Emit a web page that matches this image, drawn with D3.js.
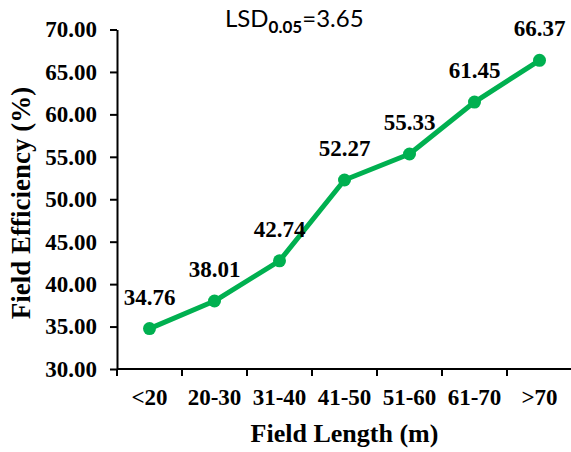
<!DOCTYPE html>
<html>
<head>
<meta charset="utf-8">
<script src="https://cdn.jsdelivr.net/npm/d3@7"></script>
<style>
  body { margin: 0; background: #fff; }
  svg { display: block; }
</style>
</head>
<body>
<div id="chart"></div>
<script>
// Data
const categories = ["<20", "20-30", "31-40", "41-50", "51-60", "61-70", ">70"];
const efficiency = [34.76, 38.01, 42.74, 52.27, 55.33, 61.45, 66.37];
const yTicks = [30, 35, 40, 45, 50, 55, 60, 65, 70];
const lsdValue = "3.65";

const W = 571, H = 452;
const margin = {top: 29.5, right: -1, bottom: 83, left: 117};
const green = "#00b050";
const serif = "'Liberation Serif', 'Times New Roman', serif";

const svg = d3.select("#chart")
    .append("svg")
    .attr("width", W)
    .attr("height", H);

// Scales
const x = d3.scaleBand()
    .domain(categories)
    .range([margin.left, W - margin.right]);

const y = d3.scaleLinear()
    .domain([30, 70])
    .range([H - margin.bottom, margin.top]);

// Y axis
const yAxis = svg.append("g")
    .attr("transform", "translate(" + margin.left + ",0)")
    .call(d3.axisLeft(y)
        .tickValues(yTicks)
        .tickFormat(d3.format(".2f"))
        .tickSize(7)
        .tickSizeOuter(0)
        .tickPadding(13));
yAxis.selectAll("text")
    .style("font-family", serif)
    .style("font-weight", "bold")
    .style("font-size", "23px")
    .attr("fill", "#000");
yAxis.selectAll("line, path").attr("stroke", "#000").attr("stroke-width", 2);

// X axis: line plus ticks at band edges, labels at band centres
const xAxis = svg.append("g");
const y0 = y(30);
xAxis.append("line")
    .attr("x1", margin.left)
    .attr("x2", W)
    .attr("y1", y0)
    .attr("y2", y0)
    .attr("stroke", "#000")
    .attr("stroke-width", 2);

xAxis.selectAll(".xtick")
    .data(categories)
    .enter()
    .append("line")
    .attr("class", "xtick")
    .attr("x1", d => x(d))
    .attr("x2", d => x(d))
    .attr("y1", y0)
    .attr("y2", y0 + 7)
    .attr("stroke", "#000")
    .attr("stroke-width", 2);

xAxis.selectAll(".xlabel")
    .data(categories)
    .enter()
    .append("text")
    .attr("class", "xlabel")
    .attr("x", d => x(d) + x.bandwidth() / 2)
    .attr("y", 405)
    .attr("text-anchor", "middle")
    .style("font-family", serif)
    .style("font-weight", "bold")
    .style("font-size", "23px")
    .text(d => d);

// Axis titles
svg.append("text")
    .attr("x", (margin.left + W - margin.right) / 2)
    .attr("y", 442)
    .attr("text-anchor", "middle")
    .style("font-family", serif)
    .style("font-weight", "bold")
    .style("font-size", "26px")
    .text("Field Length (m)");

svg.append("text")
    .attr("transform", "translate(30," + 203 + ") rotate(-90)")
    .attr("text-anchor", "middle")
    .style("font-family", serif)
    .style("font-weight", "bold")
    .style("font-size", "27px")
    .text("Field Efficiency (%)");

// Line and markers
const pts = categories.map((c, i) => ({cat: c, val: efficiency[i]}));
const line = d3.line()
    .x(d => x(d.cat) + x.bandwidth() / 2)
    .y(d => y(d.val));

svg.append("path")
    .datum(pts)
    .attr("d", line)
    .attr("fill", "none")
    .attr("stroke", green)
    .attr("stroke-width", 5)
    .attr("stroke-linejoin", "round");

svg.selectAll(".dot")
    .data(pts)
    .enter()
    .append("circle")
    .attr("class", "dot")
    .attr("cx", d => x(d.cat) + x.bandwidth() / 2)
    .attr("cy", d => y(d.val))
    .attr("r", 6.5)
    .attr("fill", green);

// Data labels
svg.selectAll(".vlabel")
    .data(pts)
    .enter()
    .append("text")
    .attr("class", "vlabel")
    .attr("x", d => x(d.cat) + x.bandwidth() / 2)
    .attr("y", d => y(d.val) - 24)
    .attr("text-anchor", "middle")
    .style("font-family", serif)
    .style("font-weight", "bold")
    .style("font-size", "23px")
    .text(d => d.val.toFixed(2));

// LSD note
const lsd = svg.append("text")
    .attr("x", 225)
    .attr("y", 27)
    .style("font-family", "Lato, 'Open Sans', sans-serif")
    .style("font-size", "24px")
    .attr("fill", "#000");
lsd.append("tspan").text("LSD");
lsd.append("tspan")
    .attr("dy", 6)
    .style("font-size", "17px")
    .style("font-weight", "bold")
    .text("0.05");
lsd.append("tspan")
    .attr("dy", -6)
    .text("=" + lsdValue);
</script>
</body>
</html>
